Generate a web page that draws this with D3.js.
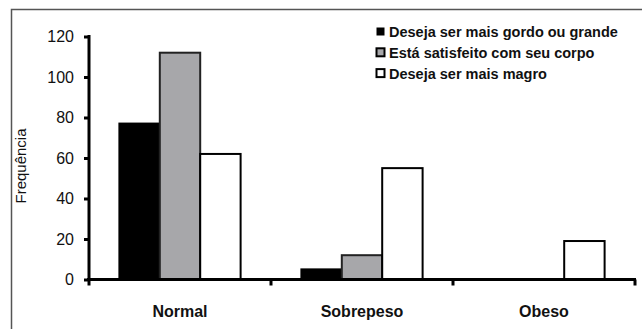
<!DOCTYPE html>
<html lang="pt">
<head>
    <meta charset="UTF-8">
    <title>Frequência por estado nutricional</title>
    <script src="https://d3js.org/d3.v7.min.js"></script>
    <style>
        body { margin: 0; background: #fff; }
        svg { display: block; font-family: "Liberation Sans", Arial, sans-serif; }
    </style>
</head>
<body>
    <svg id="chart" width="642" height="329"></svg>

    <script>
        // Dados
        const categories = ["Normal", "Sobrepeso", "Obeso"];
        const seriesNames = [
            "Deseja ser mais gordo ou grande",
            "Está satisfeito com seu corpo",
            "Deseja ser mais magro"
        ];
        const gordo = [77, 5, 0];
        const satisfeito = [112, 12, 0];
        const magro = [62, 55, 19];
        const yTicks = [0, 20, 40, 60, 80, 100, 120];

        const seriesValues = [gordo, satisfeito, magro];
        const fills = ["#000000", "#a7a7aa", "#ffffff"];

        const svg = d3.select("#chart");

        // moldura (cortada à direita e em baixo)
        svg.append("path")
            .attr("d", "M11.5,340 V9.5 H650")
            .attr("fill", "none")
            .attr("stroke", "#555")
            .attr("stroke-width", 1.5);

        const x0 = d3.scaleBand().domain(categories).range([89, 635]);
        const bw = x0.bandwidth();
        const x1 = d3.scaleBand().domain(seriesNames).range([bw * 0.167, bw * 0.833]);
        const y = d3.scaleLinear().domain([0, 120]).range([279.5, 36.5]);

        // barras
        categories.forEach((cat, ci) => {
            const g = svg.append("g").attr("transform", `translate(${x0(cat)},0)`);
            seriesNames.forEach((s, si) => {
                const v = seriesValues[si][ci];
                if (v <= 0) return;
                g.append("rect")
                    .attr("x", x1(s))
                    .attr("y", y(v))
                    .attr("width", x1.bandwidth())
                    .attr("height", y(0) - y(v))
                    .attr("fill", fills[si])
                    .attr("stroke", si === 1 ? "#222" : "#000")
                    .attr("stroke-width", 2);
            });
        });

        // eixo Y
        const yAxis = svg.append("g")
            .attr("transform", "translate(89,0)")
            .call(d3.axisLeft(y).tickValues(yTicks).tickSize(5).tickPadding(10));
        yAxis.select(".domain").attr("stroke-width", 3).attr("d", "M0,35V281");
        yAxis.selectAll(".tick line").attr("stroke-width", 3);
        yAxis.selectAll(".tick text")
            .attr("font-size", 16)
            .attr("font-family", "'Liberation Sans', Arial, sans-serif")
            .attr("fill", "#111");

        // eixo X
        const xAxis = svg.append("g").attr("transform", `translate(0,${y(0)})`);
        xAxis.append("line")
            .attr("x1", 87).attr("x2", 636)
            .attr("stroke", "#000").attr("stroke-width", 3);
        const bounds = [89, ...categories.map(c => x0(c) + bw)];
        xAxis.selectAll(".xtick").data(bounds).enter().append("line")
            .attr("x1", d => d).attr("x2", d => d)
            .attr("y1", 0).attr("y2", 6)
            .attr("stroke", "#000").attr("stroke-width", 3);
        xAxis.selectAll(".xlabel").data(categories).enter().append("text")
            .attr("x", d => x0(d) + bw / 2)
            .attr("y", 37)
            .attr("text-anchor", "middle")
            .attr("font-size", 16)
            .attr("font-weight", "bold")
            .attr("fill", "#111")
            .text(d => d);

        // título do eixo Y
        svg.append("text")
            .attr("transform", "translate(26,166) rotate(-90)")
            .attr("text-anchor", "middle")
            .attr("font-size", 15)
            .attr("fill", "#111")
            .text("Frequência");

        // legenda
        const legend = svg.append("g").attr("transform", "translate(376,27)");
        seriesNames.forEach((s, i) => {
            const row = legend.append("g").attr("transform", `translate(0,${i * 20.8})`);
            row.append("rect")
                .attr("x", 0.5).attr("y", 0.5)
                .attr("width", 8).attr("height", 8)
                .attr("fill", fills[i])
                .attr("stroke", "#000")
                .attr("stroke-width", i === 0 ? 0 : 2);
            row.append("text")
                .attr("x", 13)
                .attr("y", 10)
                .attr("font-size", 14.5)
                .attr("font-weight", "bold")
                .attr("fill", "#111")
                .text(s);
        });
    </script>
</body>
</html>
